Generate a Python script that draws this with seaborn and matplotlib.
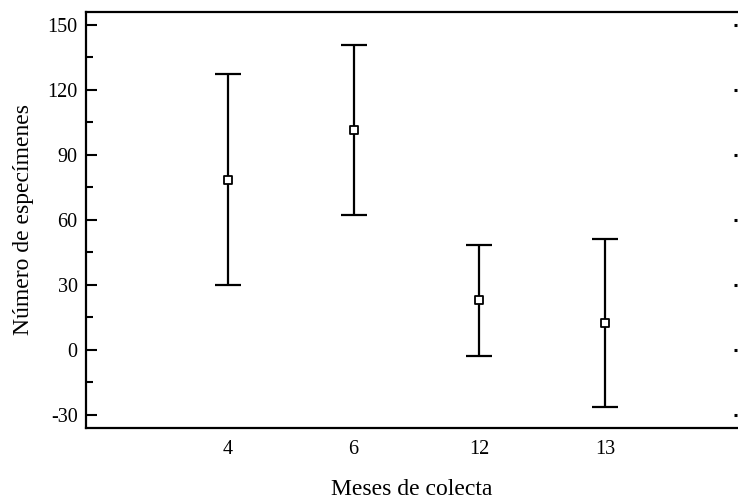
import matplotlib
matplotlib.use("Agg")
import matplotlib.pyplot as plt
import seaborn as sns
import numpy as np
from matplotlib.ticker import MultipleLocator

# valores
meses = ["4", "6", "12", "13"]
media = [78.5, 101.5, 23.0, 12.5]
lim_inf = [30.0, 62.3, -2.8, -26.3]
lim_sup = [127.4, 140.8, 48.5, 51.2]

sns.set_style("ticks")
plt.rcParams['font.family'] = ['Liberation Serif', 'DejaVu Serif']
plt.rcParams['axes.unicode_minus'] = False

fig = plt.figure(figsize=(7.38, 4.99), dpi=100)
ax = fig.add_axes([0.1165, 0.1423, 0.882, 0.834])

x = np.arange(len(meses))
media = np.array(media)
err = [media - np.array(lim_inf), np.array(lim_sup) - media]

ax.errorbar(x, media, yerr=err, fmt='none', ecolor='black',
            elinewidth=1.6, capsize=9.5, capthick=1.6)
sns.scatterplot(x=x, y=media, ax=ax, marker='s', s=30,
                facecolor='white', edgecolor='black', linewidth=1.3, zorder=3)

ax.set_xlim(-1.13, 4.05)
ax.set_ylim(-36, 156)
ax.set_xticks(x)
ax.set_xticklabels(meses)
ax.yaxis.set_major_locator(MultipleLocator(30))
ax.yaxis.set_minor_locator(MultipleLocator(15))

ax.tick_params(axis='x', length=0, labelsize=14.5, pad=9, colors='black')
ax.tick_params(axis='y', which='major', direction='in', length=8, width=1.5,
               labelsize=14.5, left=True, right=False, pad=6, colors='black')
ax.tick_params(axis='y', which='minor', direction='in', length=5, width=1.5,
               right=False, colors='black')

# marcas cortas del lado derecho
for v in np.arange(-30, 151, 30):
    ax.plot([1.0 - 0.004, 1.0], [v, v], color='black', lw=2.2,
            transform=ax.get_yaxis_transform(), clip_on=False,
            solid_capstyle='butt')

for s in ['left', 'top', 'bottom']:
    ax.spines[s].set_linewidth(1.6)
    ax.spines[s].set_color('black')
ax.spines['right'].set_visible(False)

ax.set_xlabel("Meses de colecta", fontsize=17, labelpad=14, color='black')
ax.set_ylabel("Número de especímenes", fontsize=17, labelpad=10, color='black')

fig.savefig("out.png", dpi=100)
